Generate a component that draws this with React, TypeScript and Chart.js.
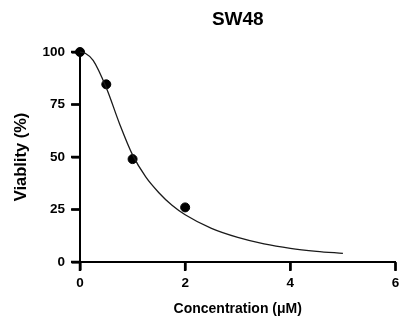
import React, { useEffect, useRef } from "react";
import { Chart, registerables } from "chart.js";

Chart.register(...registerables);

// Measured viability at each concentration (µM)
const concentrations = [0, 0.5, 1, 2];
const viability = [100, 84.6, 49, 26];

// Dose-response fit curve, sampled along the concentration axis
const fitX = [0, 0.1, 0.25, 0.5, 0.75, 1, 1.25, 1.5, 1.75, 2, 2.5, 3, 3.5, 4, 4.5, 5];
const fitY = [100, 99.4, 96, 83, 66, 51, 40.5, 33, 27, 22.5, 16, 11.7, 8.6, 6.5, 5.1, 4.1];

const xTicks = [0, 2, 4, 6];
const yTicks = [0, 25, 50, 75, 100];

const chartTitle = "SW48";
const xTitle = "Concentration (μM)";
const yTitle = "Viablity (%)";

const FONT = "'Liberation Sans', Arial, Helvetica, sans-serif";
const TICK_LEN = 9;
const TICK_W = 2.5;

// Title centred over the plotting area
const titlePlugin = {
  id: "centeredTitle",
  afterDraw(chart: any) {
    const { ctx, chartArea } = chart;
    ctx.save();
    ctx.font = `bold 19px ${FONT}`;
    ctx.fillStyle = "#000";
    ctx.textAlign = "center";
    ctx.textBaseline = "middle";
    ctx.fillText(chartTitle, (chartArea.left + chartArea.right) / 2, 20);
    ctx.restore();
  },
};

// Outward tick marks on both axes
const tickMarksPlugin = {
  id: "axisTickMarks",
  afterDraw(chart: any) {
    const { ctx, chartArea, scales } = chart;
    ctx.save();
    ctx.fillStyle = "#000";
    for (const v of yTicks) {
      const py = scales.y.getPixelForValue(v);
      ctx.fillRect(chartArea.left - TICK_LEN, py - TICK_W / 2, TICK_LEN, TICK_W);
    }
    for (const v of xTicks) {
      const px = scales.x.getPixelForValue(v);
      ctx.fillRect(px - TICK_W / 2, chartArea.bottom, TICK_W, TICK_LEN);
    }
    ctx.restore();
  },
};

export default function App() {
  const canvasRef = useRef<HTMLCanvasElement | null>(null);

  useEffect(() => {
    if (!canvasRef.current) return;
    const chart = new Chart(canvasRef.current, {
      type: "scatter",
      data: {
        datasets: [
          {
            label: "fit",
            data: fitX.map((x, i) => ({ x, y: fitY[i] })),
            showLine: true,
            borderColor: "#1a1a1a",
            borderWidth: 1.3,
            pointRadius: 0,
            cubicInterpolationMode: "monotone",
            clip: false,
          } as any,
          {
            label: "measured",
            data: concentrations.map((x, i) => ({ x, y: viability[i] })),
            showLine: false,
            backgroundColor: "#000",
            borderColor: "#000",
            pointRadius: 4.5,
            pointHoverRadius: 4.5,
            clip: false,
          } as any,
        ],
      },
      options: {
        animation: false,
        responsive: false,
        events: [],
        layout: { padding: { left: 0, right: 5, top: 52, bottom: 0 } },
        plugins: {
          legend: { display: false },
          tooltip: { enabled: false },
          title: { display: false },
        },
        scales: {
          x: {
            type: "linear",
            min: 0,
            max: 6,
            afterBuildTicks: (scale: any) => {
              scale.ticks = xTicks.map((v) => ({ value: v }));
            },
            afterFit: (scale: any) => {
              scale.height = 60;
              scale.paddingLeft = 0;
              scale.paddingRight = 0;
            },
            border: { display: true, color: "#000", width: 2 },
            grid: {
              display: true,
              drawOnChartArea: false,
              drawTicks: true,
              tickLength: 8,
              tickWidth: 2,
              tickColor: "#000",
            },
            ticks: {
              color: "#000",
              padding: 5,
              maxRotation: 0,
              font: { family: FONT, size: 13.5, weight: "bold" },
            },
            title: {
              display: true,
              text: xTitle,
              color: "#000",
              font: { family: FONT, size: 14, weight: "bold" },
              padding: { top: 0, bottom: 4 },
            },
          },
          y: {
            type: "linear",
            min: 0,
            max: 100,
            afterBuildTicks: (scale: any) => {
              scale.ticks = yTicks.map((v) => ({ value: v }));
            },
            afterFit: (scale: any) => {
              scale.width = 80;
            },
            border: { display: true, color: "#000", width: 2 },
            grid: {
              display: true,
              drawOnChartArea: false,
              drawTicks: true,
              tickLength: 8,
              tickWidth: 2,
              tickColor: "#000",
            },
            ticks: {
              color: "#000",
              padding: 7,
              font: { family: FONT, size: 13.5, weight: "bold" },
            },
            title: {
              display: true,
              text: yTitle,
              color: "#000",
              font: { family: FONT, size: 16.5, weight: "bold" },
              padding: { top: 12, bottom: 0 },
            },
          },
        },
      },
      plugins: [titlePlugin, tickMarksPlugin],
    });
    return () => chart.destroy();
  }, []);

  return (
    <div style={{ position: "fixed", left: 0, top: 0, width: 401, height: 322, background: "#fff" }}>
      <canvas ref={canvasRef} width={401} height={322} style={{ width: 401, height: 322 }} />
    </div>
  );
}
